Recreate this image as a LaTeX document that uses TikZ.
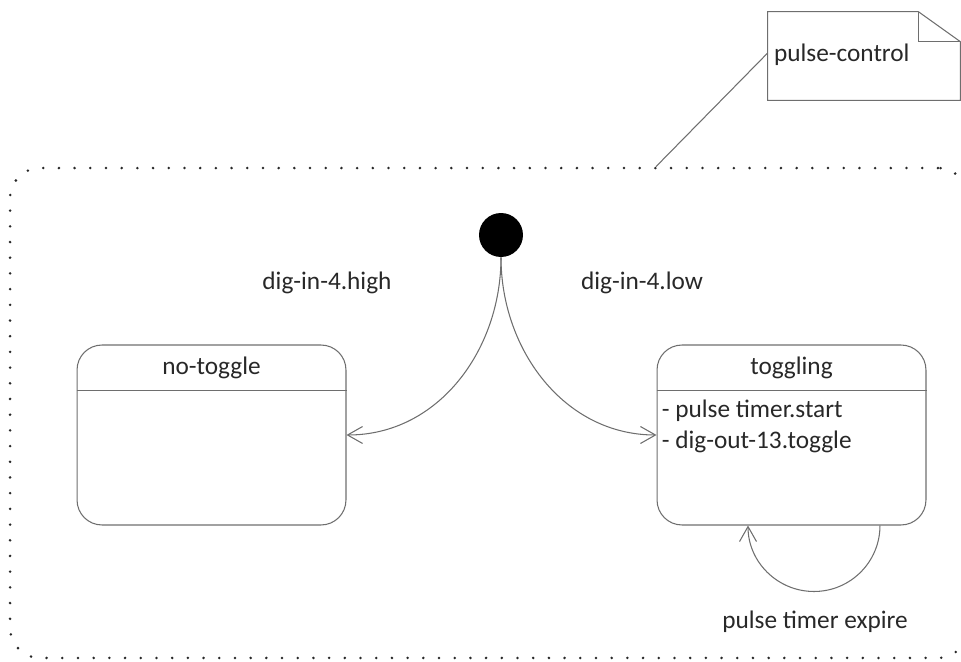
\documentclass[tikz,border=0pt]{standalone}
\usepackage{fontspec}
\setmainfont{Carlito}
\usetikzlibrary{positioning,arrows.meta}
\definecolor{edgegray}{RGB}{110,110,110}
\definecolor{inkgray}{RGB}{40,40,40}
\tikzset{
  frame/.style={draw=inkgray,rounded corners=0.6cm,line width=1.6pt,line cap=round,dash pattern=on 0pt off 0.314cm,minimum width=19.16cm,minimum height=9.8cm,inner sep=0pt},
  state/.style={draw=edgegray,rounded corners=0.5cm,line width=0.6pt,minimum width=5.38cm,minimum height=3.6cm,inner sep=0pt},
  notebox/.style={minimum width=3.84cm,minimum height=1.76cm,inner sep=0pt},
  init/.style={circle,fill=black,minimum size=0.88cm,inner sep=0pt},
  tline/.style={draw=edgegray,line width=0.6pt,-{Straight Barb[length=0.3cm,width=0.34cm]}},
  lab/.style={font=\fontsize{14.4}{17.5}\selectfont,text=inkgray,inner sep=0pt},
  every picture/.style={x=0.02cm,y=0.02cm}
}

\begin{document}
\begin{tikzpicture}
  \useasboundingbox (0,0) rectangle (961,-662);
  \clip (0,0) rectangle (961,-662);
  % region and note
  \node[frame] (region) at (489,-413) {};
  \node[notebox] (note) at (864,-56) {};
  \draw[edgegray,line width=0.6pt] (note.north west) -- ([xshift=-0.84cm]note.north east) -- ([yshift=-0.6cm]note.north east) -- (note.south east) -- (note.south west) -- cycle;
  \draw[edgegray,line width=0.6pt] ([xshift=-0.84cm]note.north east) |- ([yshift=-0.6cm]note.north east);
  \node[lab,anchor=west] (notetxt) at ([xshift=0.12cm,yshift=0.02cm]note.west) {pulse-control};
  \coordinate (regtop) at ([xshift=3.34cm]region.north);
  \draw[edgegray,line width=0.6pt] ([yshift=0.06cm]note.west) -- (regtop);
  % states
  \node[init] (start) at (501,-235) {};
  \node[state] (notog) at (211.5,-435) {};
  \node[state] (tog) at (791.5,-435) {};
  \draw[edgegray,line width=0.6pt] ([yshift=-0.92cm]notog.north west) -- ([yshift=-0.92cm]notog.north east);
  \draw[edgegray,line width=0.6pt] ([yshift=-0.92cm]tog.north west) -- ([yshift=-0.92cm]tog.north east);
  \node[lab] (notogtitle) at ([yshift=-0.46cm]notog.north) {no-toggle};
  \node[lab] (togtitle) at ([yshift=-0.46cm]tog.north) {toggling};
  \node[lab,anchor=west,align=left] (togact) at ([xshift=0.1cm,yshift=-1.64cm]tog.north west)
    {- pulse timer.start\\- dig-out-13.toggle};
  % transitions
  \draw[tline] (start.south) to[out=-90,in=0] (notog.east);
  \draw[tline] (start.south) to[out=-90,in=180] (tog.west);
  \draw[tline] ([xshift=1.77cm]tog.south) arc[start angle=0,end angle=-180,radius=1.32cm];
  \node[lab] (hightxt) at (327,-283) {dig-in-4.high};
  \node[lab] (lowtxt) at (642,-283) {dig-in-4.low};
  \node[lab] (expiretxt) at (815,-622) {pulse timer expire};
\end{tikzpicture}
\end{document}
